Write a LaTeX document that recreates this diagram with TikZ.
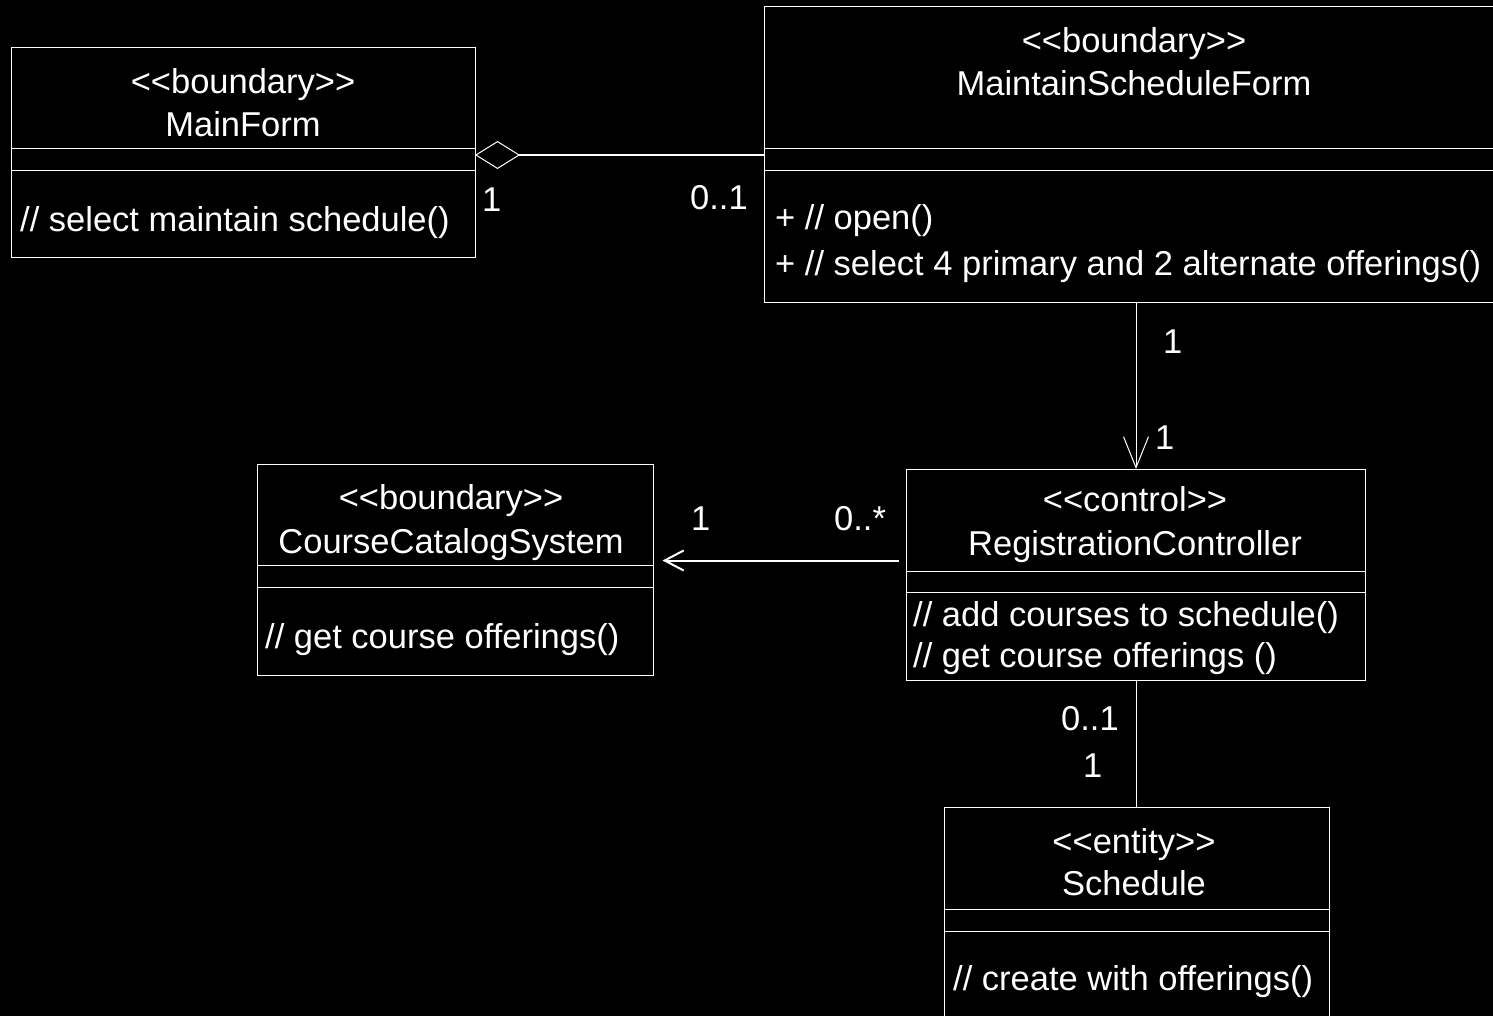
\documentclass[tikz,border=0pt]{standalone}
\usepackage{fontspec}
\setmainfont{Liberation Sans}
\usetikzlibrary{arrows.meta}
\newcommand{\umlsize}{\fontsize{34.5}{42}\selectfont}
\tikzset{
    umlbox/.style={draw=white, line width=1pt, rectangle, inner sep=0pt, outer sep=0pt},
    umltext/.style={text=white, font=\umlsize, inner sep=0pt, anchor=base},
    optext/.style={umltext, anchor=base west},
    mult/.style={umltext, anchor=base west},
    divider/.style={draw=white, line width=1pt},
    aggr/.style={draw=white, line width=2pt, {Diamond[open, length=45pt, width=28pt, line width=1pt]}-},
    navarr/.style={draw=white, line width=2pt, -{Straight Barb[length=19pt, width=20pt]}},
    navthin/.style={draw=white, line width=1pt, -{Straight Barb[length=31pt, width=25pt]}}
}

\begin{document}
\begin{tikzpicture}[x=1pt, y=-1pt]
        % --- Canvas ---
        \fill[black, use as bounding box] (0,0) rectangle (1493,1016);
        \clip (0,0) rectangle (1493,1016);

        % --- Classes ---
        \node[umlbox, minimum width=464pt, minimum height=210pt] (mainform) at (243,153) {};
        \node[umlbox, minimum width=740pt, minimum height=295pt] (msform) at (1134,154.5) {};
        \node[umlbox, minimum width=396pt, minimum height=211pt] (catalog) at (455.5,569.5) {};
        \node[umlbox, minimum width=459pt, minimum height=211pt] (regctrl) at (1136,574.5) {};
        \node[umlbox, minimum width=385pt, minimum height=223pt] (schedule) at (1137,918.5) {};

        % --- Compartments ---
        \draw[divider] (mainform.west |- 0,149) -- (mainform.east |- 0,149);
        \draw[divider] (mainform.west |- 0,171) -- (mainform.east |- 0,171);
        \draw[divider] (msform.west |- 0,149) -- (msform.east |- 0,149);
        \draw[divider] (msform.west |- 0,171) -- (msform.east |- 0,171);
        \draw[divider] (catalog.west |- 0,565) -- (catalog.east |- 0,565);
        \draw[divider] (catalog.west |- 0,587) -- (catalog.east |- 0,587);
        \draw[divider] (regctrl.west |- 0,571) -- (regctrl.east |- 0,571);
        \draw[divider] (regctrl.west |- 0,592) -- (regctrl.east |- 0,592);
        \draw[divider] (schedule.west |- 0,909) -- (schedule.east |- 0,909);
        \draw[divider] (schedule.west |- 0,931) -- (schedule.east |- 0,931);

        % --- Names ---
        \node[umltext] (mainformst) at (243,94) {<{}<boundary>{}>};
        \node[umltext] (mainformnm) at (243,137) {MainForm};
        \node[umltext] (msformst) at (1134,53) {<{}<boundary>{}>};
        \node[umltext] (msformnm) at (1134,96) {MaintainScheduleForm};
        \node[umltext] (catalogst) at (451,509) {<{}<boundary>{}>};
        \node[umltext] (catalognm) at (451,553) {CourseCatalogSystem};
        \node[umltext] (regctrlst) at (1135,511) {<{}<control>{}>};
        \node[umltext] (regctrlnm) at (1135,555) {RegistrationController};
        \node[umltext] (schedulest) at (1134,853) {<{}<entity>{}>};
        \node[umltext] (schedulenm) at (1134,895) {Schedule};

        % --- Operations ---
        \node[optext] (mainformop) at (20,232) {// select maintain schedule()};
        \node[optext] (msformopa) at (775,230) {+ // open()};
        \node[optext] (msformopb) at (775,276) {+ // select 4 primary and 2 alternate offerings()};
        \node[optext] (catalogop) at (265,648) {// get course offerings()};
        \node[optext] (regctrlopa) at (913,626) {// add courses to schedule()};
        \node[optext] (regctrlopb) at (913,667) {// get course offerings ()};
        \node[optext] (scheduleop) at (953,990) {// create with offerings()};

        % --- Associations ---
        \draw[aggr] ([yshift=-2pt]mainform.east) -- ([yshift=-2pt]mainform.east -| msform.west);
        \draw[navthin] (msform.south -| regctrl.north) -- (regctrl.north);
        \draw[navarr] ([shift={(-8,-14)}]regctrl.west) -- ([shift={(9,-9)}]catalog.east);
        \draw[divider] (regctrl.south) -- (regctrl.south |- schedule.north);

        % --- Multiplicities ---
        \node[mult] (mfone) at (482,212) {1};
        \node[mult] (msfopt) at (690,210) {0..1};
        \node[mult] (msfone) at (1163,353) {1};
        \node[mult] (rcone) at (1155,449) {1};
        \node[mult] (ccone) at (691,530) {1};
        \node[mult] (rcmany) at (834,530) {0..*};
        \node[mult] (rcopt) at (1061,730) {0..1};
        \node[mult] (schone) at (1083,777) {1};

    \end{tikzpicture}
\end{document}
